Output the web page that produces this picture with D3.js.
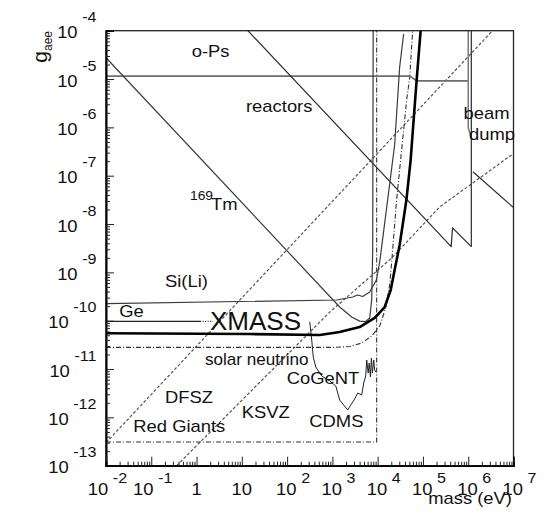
<!DOCTYPE html>
<html>
<head>
<meta charset="utf-8">
<script src="https://cdn.jsdelivr.net/npm/d3@7"></script>
<style>
  body { margin: 0; background: #fff; }
  svg { display: block; }
  text { font-family: "Liberation Sans", Arial, Helvetica, sans-serif; fill: #111; }
</style>
</head>
<body>
<svg id="chart" width="554" height="531"></svg>
<script>
// every curve is a list of [mass (eV), g_aee]
const oPs = [[1e-2, 1.15e-5], [5.1e4, 1.15e-5], [7.3e4, 9.2e-6], [1.0e6, 9.2e-6]]
const oPsEdge = [[1.0e6, 1e-4], [1.0e6, 9.7e-7], [1.18e6, 6.0e-7]]
const reactors = [[13.6, 1e-4], [4.2e5, 3.4e-9], [4.5e5, 8.3e-9], [1.17e6, 3.4e-9]]
const beamDump = [[1.17e6, 1e-4], [1.17e6, 3.4e-9]]
const beamDumpLow = [[1.27e6, 1.21e-7], [1e7, 2.18e-8]]
const thulium = [[1e-2, 2.76e-5], [1.45e3, 1.92e-10], [2.67e3, 1.19e-10], [4.0e3, 9.8e-11],
    [5.45e3, 9.6e-11], [6.67e3, 1.14e-10], [7.38e3, 2.68e-10], [7.77e3, 2.9e-9], [7.96e3, 1e-4]]
const siLi = [[1e-2, 2.26e-10], [1.25e3, 2.68e-10], [2.81e3, 3.09e-10], [3.62e3, 3.4e-10],
    [4.67e3, 3.16e-10], [6.67e3, 3.92e-10], [9.37e3, 6.95e-10], [1.11e4, 1.64e-9],
    [1.66e4, 3.14e-8], [2.37e4, 4.32e-7], [3.06e4, 1.77e-5], [3.75e4, 8.55e-5]]
const germanium = [[1e-2, 9.7e-11], [1.2, 9.7e-11]]
const germaniumDots = [[1.2, 9.7e-11], [2.3, 9.7e-11]]
const xmass = [[1e-2, 5.5e-11], [15, 5.3e-11], [526, 5.06e-11], [1.45e3, 5.83e-11],
    [4.0e3, 7.4e-11], [8.6e3, 1.14e-10], [1.43e4, 1.92e-10], [1.94e4, 4.31e-10],
    [2.37e4, 1.12e-9], [3.06e4, 3.68e-9], [4.31e4, 3.14e-8], [5.35e4, 2.11e-7],
    [6.23e4, 1.42e-6], [7.26e4, 9.55e-6], [8.89e4, 1e-4]]
const solarNu = [[1e-2, 2.81e-11], [1.13e3, 2.81e-11], [2.41e3, 2.92e-11], [4.44e3, 3.45e-11],
    [7.38e3, 4.82e-11], [1.11e4, 7.76e-11], [1.5e4, 1.83e-10], [1.84e4, 5.47e-10],
    [2.04e4, 1.64e-9], [2.62e4, 3.14e-8], [3.56e4, 5.48e-7], [4.37e4, 3.68e-6],
    [5.09e4, 1.05e-5], [5.92e4, 1e-4]]
const redGiants = [[1e-2, 3.1e-13], [9.5e3, 3.1e-13], [9.5e3, 1e-4]]
const dfsz = [[1e-2, 3.0e-13], [3.44e6, 1e-4]]
const ksvz = [[0.363, 1e-13], [875, 1.51e-10], [2.04e4, 1.98e-9], [2.33e5, 2.25e-8], [9.66e6, 2.81e-7]]
const cogent = [[316, 9.5e-11], [350, 3.98e-11], [378, 1.77e-11], [430, 1.1e-11],
    [582, 7.17e-12], [875, 5.65e-12], [1.19e3, 4.45e-12]]
const cdms = [[1.19e3, 4.45e-12], [1.45e3, 2.28e-12], [1.78e3, 1.8e-12], [2.18e3, 1.42e-12],
    [2.54e3, 1.8e-12], [3.11e3, 2.4e-12], [3.62e3, 3.19e-12], [4.44e3, 2.9e-12],
    [4.92e3, 5.14e-12], [5.45e3, 7.17e-12], [5.73e3, 1.54e-11], [6.18e3, 8.28e-12],
    [6.5e3, 1.33e-11], [6.92e3, 6.84e-12], [7.27e3, 1.69e-11], [7.65e3, 8.28e-12],
    [8.17e3, 1.54e-11], [8.59e3, 9.55e-12], [9.04e3, 8.67e-12]]

const massExponents = [-2, -1, 0, 1, 2, 3, 4, 5, 6, 7]
const gExponents = [-13, -12, -11, -10, -9, -8, -7, -6, -5, -4]

const frame = { left: 106, top: 30.7, right: 513.5, bottom: 465.7 }
const stretch = 'scale(1.15,1)'

const svg = d3.select('#chart')

const x = d3.scaleLog().domain([1e-2, 1e7]).range([frame.left, frame.right])
const y = d3.scaleLog().domain([1e-13, 1e-4]).range([frame.bottom, frame.top])

const line = d3.line()
    .x(d => x(d[0]))
    .y(d => y(d[1]))

const plot = svg.append('g')

function curve(data, color, width, dash) {
    const p = plot.append('path')
        .datum(data)
        .attr('d', line)
        .attr('fill', 'none')
        .attr('stroke', color)
        .attr('stroke-width', width)
        .attr('stroke-linejoin', 'round')
    if (dash)
        p.attr('stroke-dasharray', dash)
    return p
}

curve(dfsz, '#555', 1.2, '3,2')
curve(ksvz, '#555', 1.2, '3,2')
curve(redGiants, '#333', 1.1, '5,2,1,2')
curve(solarNu, '#333', 1.1, '5,2,1,2')
curve(oPs, '#6e6e6e', 1.7)
curve(oPsEdge, '#7a7a7a', 1.5)
curve(reactors, '#2a2a2a', 1.2)
curve(beamDump, '#2a2a2a', 1.2)
curve(beamDumpLow, '#2a2a2a', 1.2)
curve(thulium, '#3a3a3a', 1.2)
curve(siLi, '#3a3a3a', 1.2)
curve(germanium, '#222', 1.2)
curve(germaniumDots, '#222', 1.2, '1,1.5')
curve(cogent, '#222', 1)
curve(cdms, '#222', 1)
curve(xmass, '#000', 2.6)

// frame
svg.append('rect')
    .attr('x', frame.left).attr('y', frame.top)
    .attr('width', frame.right - frame.left).attr('height', frame.bottom - frame.top)
    .attr('fill', 'none').attr('stroke', '#222').attr('stroke-width', 1.3)

// ticks, drawn inside the frame like ROOT does
const minors = (exps) => {
    let out = []
    exps.slice(0, -1).forEach(e => {
        for (let k = 2; k <= 9; k++) out.push(k * Math.pow(10, e))
    })
    return out
}

const axisY = svg.append('g').attr('transform', `translate(${frame.left},0)`)
axisY.append('g').call(d3.axisLeft(y).tickValues(gExponents.map(e => Math.pow(10, e))).tickSize(-8).tickFormat(''))
axisY.append('g').call(d3.axisLeft(y).tickValues(minors(gExponents)).tickSize(-4).tickFormat(''))
axisY.selectAll('.domain').attr('stroke-width', 1.6)

const axisX = svg.append('g').attr('transform', `translate(0,${frame.bottom})`)
axisX.append('g').call(d3.axisBottom(x).tickValues(massExponents.map(e => Math.pow(10, e))).tickSize(-9).tickFormat(''))
axisX.append('g').call(d3.axisBottom(x).tickValues(minors(massExponents)).tickSize(-4).tickFormat(''))
axisX.selectAll('.domain').attr('stroke-width', 1.6)
svg.selectAll('.tick line').attr('stroke', '#222')

// tick labels
gExponents.forEach(e => {
    const t = svg.append('text')
        .attr('transform', `translate(96.5,${y(Math.pow(10, e)) + 7.6}) ${stretch}`)
        .attr('text-anchor', 'end')
        .attr('font-size', 16)
        .text('10')
    t.append('tspan').attr('dx', 4).attr('dy', -16).attr('font-size', 14).text(e)
})

massExponents.forEach(e => {
    const px = x(Math.pow(10, e))
    let t
    if (e == 0 || e == 1) {
        t = svg.append('text')
            .attr('transform', `translate(${px},495) ${stretch}`)
            .attr('text-anchor', 'middle').attr('font-size', 16)
            .text(e == 0 ? '1' : '10')
        return
    }
    const shift = e < 0 ? 1.5 : 6
    t = svg.append('text')
        .attr('transform', `translate(${px + shift},495) ${stretch}`)
        .attr('text-anchor', 'middle').attr('font-size', 16)
        .text('10')
    t.append('tspan').attr('dx', 4).attr('dy', -12).attr('font-size', 14).text(e)
})

svg.append('text')
    .attr('transform', `translate(512,504) ${stretch}`)
    .attr('text-anchor', 'end').attr('font-size', 16)
    .text('mass (eV)')

const title = svg.append('text')
    .attr('transform', 'translate(47,31) rotate(-90)')
    .attr('text-anchor', 'end').attr('font-size', 21)
    .text('g')
title.append('tspan').attr('dy', 5).attr('font-size', 12).text('aee')

// annotations
function note(str, px, py, size, sx) {
    return svg.append('text')
        .attr('transform', `translate(${px},${py}) scale(${sx || 1.15},1)`)
        .attr('font-size', size || 16)
        .text(str)
}

note('o-Ps', 191.7, 56.7)
note('reactors', 246, 111.7)
note('beam', 463.5, 118.5)
note('dump', 469, 140)
note('169', 190, 200, 12)
note('Tm', 211, 210)
note('Si(Li)', 165, 286.7)
note('Ge', 119.3, 317.3)
note('solar neutrino', 205, 365, 16, 1.07)
note('CoGeNT', 286.7, 384)
note('DFSZ', 165, 403.3)
note('KSVZ', 241.7, 418.3)
note('Red Giants', 133.3, 431.7)
note('CDMS', 309.3, 426.7)

svg.append('text')
    .attr('x', 210).attr('y', 330)
    .attr('font-size', 26)
    .text('XMASS')
</script>
</body>
</html>
